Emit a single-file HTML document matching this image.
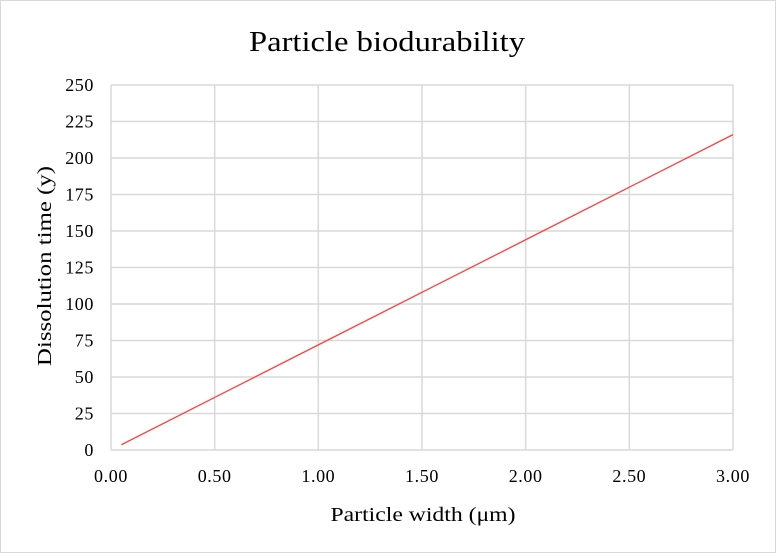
<!DOCTYPE html>
<html><head><meta charset="utf-8"><style>
body{margin:0;background:#fff;}
svg{display:block;font-family:"Liberation Serif",serif;}
</style></head><body>
<svg id="chart" width="776" height="553">
<rect x="0.5" y="0.5" width="775" height="552" fill="#fff" stroke="#d9d9d9"/>
<text x="387" y="51" font-size="28" text-anchor="middle" textLength="276" lengthAdjust="spacingAndGlyphs" fill="#000">Particle biodurability</text>
<g id="grid"></g><g id="axes"></g><g id="series"></g>
<text x="423" y="521" font-size="20" text-anchor="middle" textLength="185" lengthAdjust="spacingAndGlyphs">Particle width (μm)</text>
<text transform="translate(51,266) rotate(-90)" font-size="20" text-anchor="middle" textLength="200" lengthAdjust="spacingAndGlyphs">Dissolution time (y)</text>
</svg>
<script>
const xTicks=[0,0.5,1,1.5,2,2.5,3];
const xTickLabels=["0.00","0.50","1.00","1.50","2.00","2.50","3.00"];
const yTicks=[0,25,50,75,100,125,150,175,200,225,250];
const widths=[0.05,0.5,1,1.5,2,2.5,3];
const times=[3.6,36,72,108,144,180,216];
const L=111,R=733,T=85,B=450;
const sx=v=>L+(v-0)/3*(R-L);
const sy=v=>B-(v/250)*(B-T);
const NS="http://www.w3.org/2000/svg";
function mk(tag,attrs,parent,text){const e=document.createElementNS(NS,tag);for(const k in attrs)e.setAttribute(k,attrs[k]);if(text!=null)e.textContent=text;document.getElementById(parent).appendChild(e);return e;}
yTicks.forEach(v=>{
 const g=mk('line',{x1:L,x2:R,y1:sy(v),y2:sy(v),stroke:'#d9d9d9','stroke-width':1.5},'grid');
 
 
 const t=mk('text',{x:L-17,y:sy(v)+6,'font-size':18,'letter-spacing':'0.6','text-anchor':'end'},'axes',String(v));
 
 
});
xTicks.forEach((v,i)=>{
 const g=mk('line',{x1:sx(v),x2:sx(v),y1:T,y2:B,stroke:'#d9d9d9','stroke-width':1.5},'grid');
 
 
 const t=mk('text',{x:sx(v),y:B+32,'font-size':18,'letter-spacing':'0.6','text-anchor':'middle'},'axes',xTickLabels[i]);
 
 
});
const pts=widths.map((w,i)=>sx(w)+','+sy(times[i])).join(' ');
const p=mk('polyline',{points:pts,fill:'none',stroke:'#ff4040','stroke-width':1.3},'series');


</script>
</body></html>
